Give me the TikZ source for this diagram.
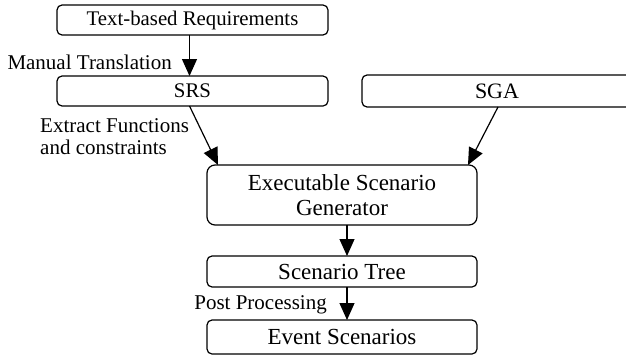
\documentclass[tikz,border=0pt]{standalone}
\usepackage{fontspec}
\setmainfont{Liberation Serif}
\usetikzlibrary{arrows.meta}
\begin{document}
\begin{tikzpicture}[x=1pt,y=-1pt,
  box/.style={draw,line width=1.2pt,rounded corners=5pt,inner sep=0pt,outer sep=0pt,align=center},
  arr/.style={line width=1.2pt,-{Triangle[length=17pt,width=15pt]}},
  lbl/.style={inner sep=0pt,font=\fontsize{21}{22}\selectfont}]
\useasboundingbox (0,0) rectangle (626,356);
\clip (0,0) rectangle (626,356);
\node[box,minimum width=271pt,minimum height=30pt,font=\fontsize{20.8}{22}\selectfont] (tbr) at (192.5,20) {\raisebox{-1.5pt}{Text-based Requirements}};
\node[box,minimum width=271pt,minimum height=30pt,font=\fontsize{20.8}{22}\selectfont] (srs) at (192.5,91) {\raisebox{-1.5pt}{SRS}};
\node[box,minimum width=280pt,minimum height=32pt,font=\fontsize{22}{24}\selectfont] (sga) at (502,91) {\hspace*{-10pt}SGA};
\node[box,rounded corners=8pt,minimum width=270pt,minimum height=60pt,font=\fontsize{23}{25}\selectfont] (esg) at (342,195) {Executable Scenario\\Generator};
\node[box,minimum width=270pt,minimum height=31pt,font=\fontsize{23}{25}\selectfont] (st) at (342,271.5) {Scenario Tree};
\node[box,minimum width=270pt,minimum height=34pt,font=\fontsize{23}{25}\selectfont] (es) at (342,337) {Event Scenarios};
\draw[arr] ([xshift=-3pt]tbr.south) -- ([xshift=-3pt]srs.north);
\draw[arr] ([xshift=-3pt]srs.south) -- ([xshift=11pt]esg.north west);
\draw[arr] ([xshift=-4pt]sga.south) -- ([xshift=-9pt]esg.north east);
\draw[arr] ([xshift=5pt]esg.south) -- ([xshift=5pt]st.north);
\draw[arr] ([xshift=5pt]st.south) -- ([xshift=5pt]es.north);
\node[lbl,anchor=east] (mt) at (172,62) {Manual Translation};
\node[lbl,anchor=north west,align=left] (ef) at (40,118) {Extract Functions\\and constraints};
\node[lbl,anchor=east] (pp) at (327,305) {Post Processing};
\end{tikzpicture}
\end{document}
